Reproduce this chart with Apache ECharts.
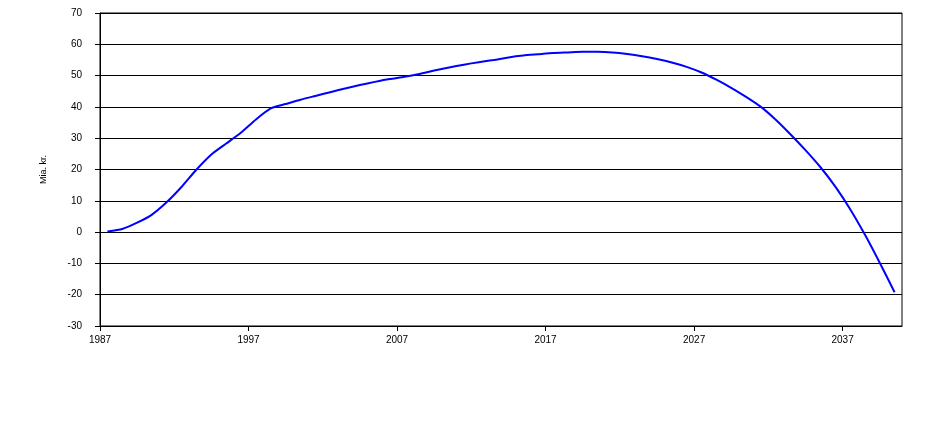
<!DOCTYPE html>
<html>
<head>
<meta charset="utf-8">
<script src="https://cdn.jsdelivr.net/npm/echarts@6/dist/echarts.min.js"></script>
<style>html,body{margin:0;padding:0;background:#fff}#c{width:930px;height:435px}</style>
</head>
<body>
<div id="c"></div>
<script>
var startYear = 1987;
var years = [];
for (var y = 1987; y <= 2040; y++) years.push(y);
var values = [
  0.2, 1.0, 3.0, 5.6, 9.6, 14.5, 20.0, 24.8, 28.3, 31.8,
  36.0, 39.5, 40.9, 42.3, 43.5, 44.7, 45.9, 47.0, 48.0, 48.9,
  49.6, 50.5, 51.6, 52.6, 53.5, 54.3, 55.0, 55.8, 56.4, 56.8,
  57.2, 57.4, 57.6, 57.6, 57.4, 56.9, 56.2, 55.3, 54.2, 52.8,
  51.0, 48.7, 46.1, 43.2, 40.0, 35.9, 31.2, 26.2, 20.8, 14.6,
  7.4, -0.8, -9.8, -19.2
];
var tickYears = [1987, 1997, 2007, 2017, 2027, 2037];
var yTicks = [-30, -20, -10, 0, 10, 20, 30, 40, 50, 60, 70];
var yName = 'Mia. kr.';

var points = years.map(function (yr, i) { return [yr - startYear + 0.5, values[i]]; });
var tickPos = tickYears.map(function (t) { return t - startYear; });

var chart = echarts.init(document.getElementById('c'), null, {renderer: 'canvas'});
var font = 'Liberation Sans, Arial, sans-serif';
chart.setOption({
  animation: false,
  backgroundColor: '#fff',
  grid: {left: 100, top: 13, right: 28, bottom: 109, show: true, borderColor: '#000', borderWidth: 1, backgroundColor: 'transparent'},
  xAxis: {
    type: 'value', min: 0, max: years.length, interval: 10,
    axisLine: {onZero: false, lineStyle: {color: '#000', width: 1}},
    axisTick: {show: true, length: 5, lineStyle: {color: '#000'}, customValues: tickPos},
    axisLabel: {color: '#000', fontSize: 10, fontFamily: font, margin: 9, customValues: tickPos,
      formatter: function (v) { return String(startYear + v); }},
    splitLine: {show: false}
  },
  yAxis: {
    type: 'value', min: yTicks[0], max: yTicks[yTicks.length - 1], interval: 10,
    name: yName, nameLocation: 'middle', nameGap: 52, nameRotate: 90,
    nameTextStyle: {color: '#000', fontSize: 9, fontFamily: font},
    axisLine: {show: true, onZero: false, lineStyle: {color: '#000', width: 1}},
    axisTick: {show: true, inside: false, length: 5, lineStyle: {color: '#000', width: 1}},
    axisLabel: {color: '#000', fontSize: 10, fontFamily: font, margin: 18},
    splitLine: {show: true, lineStyle: {color: '#000', width: 1}}
  },
  series: [{
    type: 'line', data: points, showSymbol: false, smooth: 0.2,
    lineStyle: {color: '#0000FF', width: 2}
  }]
});
</script>
</body>
</html>
